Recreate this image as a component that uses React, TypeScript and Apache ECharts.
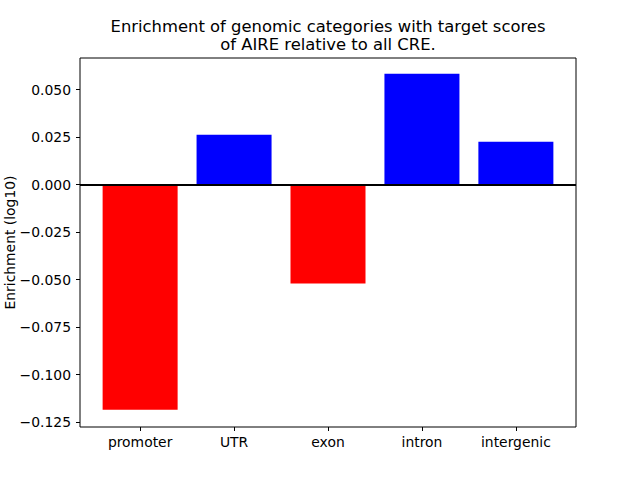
import React, { useEffect, useRef } from "react";
import * as echarts from "echarts";

const categories = ["promoter", "UTR", "exon", "intron", "intergenic"];
const values = [-0.1185, 0.0263, -0.0521, 0.0584, 0.0226];
const yTicks = [-0.125, -0.1, -0.075, -0.05, -0.025, 0, 0.025, 0.05];
const titleLines = ["Enrichment of genomic categories with target scores", "of AIRE relative to all CRE."];
const yName = "Enrichment (log10)";

const FONT = "DejaVu Sans";

export default function App() {
  const ref = useRef<HTMLDivElement>(null);
  useEffect(() => {
    if (!ref.current) return;
    const chart = echarts.init(ref.current, null, { renderer: "svg" });
    const xTicks = categories.map((_, i) => i);
    chart.setOption({
      animation: false,
      backgroundColor: "#ffffff",
      title: titleLines.map((t, i) => ({
        text: t,
        left: 328,
        top: 17 + i * 18,
        textAlign: "center",
        padding: 0,
        textStyle: {
          fontFamily: FONT,
          fontSize: 16.4,
          fontWeight: "normal",
          color: "#000",
          lineHeight: 18,
        },
      })),
      grid: {
        left: 80,
        right: 64,
        top: 58,
        bottom: 53,
        show: true,
        borderColor: "#000",
        borderWidth: 1,
        backgroundColor: "transparent",
        outerBoundsMode: "none",
        containLabel: false,
      },
      xAxis: {
        type: "value",
        min: -0.64,
        max: 4.64,
        splitLine: { show: false },
        axisLine: { show: false, onZero: false },
        axisTick: {
          show: true,
          length: 4,
          customValues: xTicks,
          lineStyle: { color: "#000" },
        },
        axisLabel: {
          customValues: xTicks,
          formatter: (v: number) => categories[Math.round(v)] ?? "",
          fontFamily: FONT,
          fontSize: 13.9,
          color: "#000",
          margin: 8,
        },
      },
      yAxis: {
        type: "value",
        min: -0.1276,
        max: 0.0667,
        name: yName,
        nameLocation: "middle",
        nameGap: 63,
        nameMoveOverlap: false,
        nameTextStyle: { fontFamily: FONT, fontSize: 13.9, color: "#000" },
        splitLine: { show: false },
        axisLine: { show: false, onZero: false },
        axisTick: {
          show: true,
          length: 4,
          customValues: yTicks,
          lineStyle: { color: "#000" },
        },
        axisLabel: {
          customValues: yTicks,
          formatter: (v: number) => v.toFixed(3).replace("-", "\u2212"),
          fontFamily: FONT,
          fontSize: 13.9,
          color: "#000",
          margin: 9,
        },
      },
      series: [
        {
          type: "bar",
          barWidth: 75,
          data: values.map((v, i) => ({
            value: [i, v],
            itemStyle: { color: v < 0 ? "#ff0000" : "#0000ff" },
          })),
          markLine: {
            symbol: "none",
            silent: true,
            label: { show: false },
            lineStyle: { color: "#000", width: 2, type: "solid" },
            data: [{ yAxis: 0 }],
          },
        },
      ],
    });
    return () => chart.dispose();
  }, []);
  return <div ref={ref} style={{ width: 640, height: 480, position: "absolute", left: 0, top: 0 }} />;
}
